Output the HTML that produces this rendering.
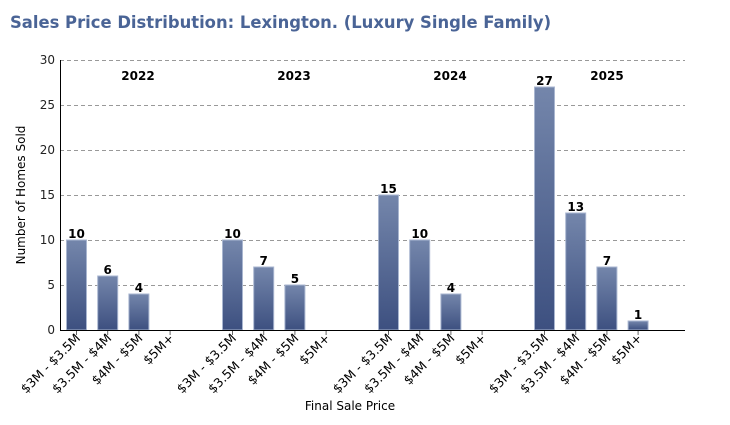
<!DOCTYPE html>
<html><head><style>body{margin:0;background:#fff}</style></head><body>
<svg width="730" height="420" xmlns="http://www.w3.org/2000/svg" font-family="DejaVu Sans, sans-serif">
<defs><linearGradient id="g" x1="0" y1="0" x2="0" y2="1"><stop offset="0" stop-color="#7486ab"/><stop offset="1" stop-color="#3d5080"/></linearGradient></defs>
<text x="10" y="28" font-size="16.4" font-weight="bold" fill="#4a6496">Sales Price Distribution: Lexington. (Luxury Single Family)</text>
<g stroke="#999" stroke-dasharray="4,3" stroke-width="1">
<line x1="60" x2="685" y1="60.5" y2="60.5"/><line x1="60" x2="685" y1="105.5" y2="105.5"/><line x1="60" x2="685" y1="150.5" y2="150.5"/><line x1="60" x2="685" y1="195.5" y2="195.5"/><line x1="60" x2="685" y1="240.5" y2="240.5"/><line x1="60" x2="685" y1="285.5" y2="285.5"/>
</g>
<g font-size="12" text-anchor="end" fill="#222">
<text x="55" y="64">30</text><text x="55" y="109">25</text><text x="55" y="154">20</text><text x="55" y="199">15</text><text x="55" y="244">10</text><text x="55" y="289">5</text><text x="55" y="334">0</text>
</g>
<g fill="url(#g)" stroke="#a9b6d0" stroke-width="1">
<rect x="66.5" y="240" width="20" height="90"/>
<rect x="97.7" y="276" width="20" height="54"/>
<rect x="128.9" y="294" width="20" height="36"/>
<rect x="222.5" y="240" width="20" height="90"/>
<rect x="253.7" y="267" width="20" height="63"/>
<rect x="284.9" y="285" width="20" height="45"/>
<rect x="378.5" y="195" width="20" height="135"/>
<rect x="409.7" y="240" width="20" height="90"/>
<rect x="440.9" y="294" width="20" height="36"/>
<rect x="534.5" y="87" width="20" height="243"/>
<rect x="565.7" y="213" width="20" height="117"/>
<rect x="596.9" y="267" width="20" height="63"/>
<rect x="628.1" y="321" width="20" height="9"/>
</g>
<g font-size="12" font-weight="bold" text-anchor="middle">
<text x="76.5" y="238">10</text><text x="107.7" y="274">6</text><text x="138.9" y="292">4</text>
<text x="232.5" y="238">10</text><text x="263.7" y="265">7</text><text x="294.9" y="283">5</text>
<text x="388.5" y="193">15</text><text x="419.7" y="238">10</text><text x="450.9" y="292">4</text>
<text x="544.5" y="85">27</text><text x="575.7" y="211">13</text><text x="606.9" y="265">7</text><text x="638.1" y="319">1</text>
</g>
<g stroke="#666">
<line x1="76.5" x2="76.5" y1="330" y2="335"/><line x1="107.7" x2="107.7" y1="330" y2="335"/><line x1="138.9" x2="138.9" y1="330" y2="335"/><line x1="170.1" x2="170.1" y1="330" y2="335"/>
<line x1="232.5" x2="232.5" y1="330" y2="335"/><line x1="263.7" x2="263.7" y1="330" y2="335"/><line x1="294.9" x2="294.9" y1="330" y2="335"/><line x1="326.1" x2="326.1" y1="330" y2="335"/>
<line x1="388.5" x2="388.5" y1="330" y2="335"/><line x1="419.7" x2="419.7" y1="330" y2="335"/><line x1="450.9" x2="450.9" y1="330" y2="335"/><line x1="482.1" x2="482.1" y1="330" y2="335"/>
<line x1="544.5" x2="544.5" y1="330" y2="335"/><line x1="575.7" x2="575.7" y1="330" y2="335"/><line x1="606.9" x2="606.9" y1="330" y2="335"/><line x1="638.1" x2="638.1" y1="330" y2="335"/>
</g>
<line x1="60.5" y1="60" x2="60.5" y2="330" stroke="#000"/>
<line x1="60" y1="330.5" x2="685" y2="330.5" stroke="#000"/>
<text transform="translate(25,195) rotate(-90)" font-size="12" text-anchor="middle">Number of Homes Sold</text>
<text x="350" y="410" font-size="12" text-anchor="middle">Final Sale Price</text>
<g font-size="12" font-weight="bold" text-anchor="middle">
<text x="138" y="80">2022</text><text x="294" y="80">2023</text><text x="450" y="80">2024</text><text x="607" y="80">2025</text>
</g>
<g font-size="12.5" text-anchor="end">
<text transform="translate(81,339) rotate(-45)">$3M - $3.5M</text>
<text transform="translate(112.2,339) rotate(-45)">$3.5M - $4M</text>
<text transform="translate(143.4,339) rotate(-45)">$4M - $5M</text>
<text transform="translate(174.6,339) rotate(-45)">$5M+</text>
<text transform="translate(237,339) rotate(-45)">$3M - $3.5M</text>
<text transform="translate(268.2,339) rotate(-45)">$3.5M - $4M</text>
<text transform="translate(299.4,339) rotate(-45)">$4M - $5M</text>
<text transform="translate(330.6,339) rotate(-45)">$5M+</text>
<text transform="translate(393,339) rotate(-45)">$3M - $3.5M</text>
<text transform="translate(424.2,339) rotate(-45)">$3.5M - $4M</text>
<text transform="translate(455.4,339) rotate(-45)">$4M - $5M</text>
<text transform="translate(486.6,339) rotate(-45)">$5M+</text>
<text transform="translate(549,339) rotate(-45)">$3M - $3.5M</text>
<text transform="translate(580.2,339) rotate(-45)">$3.5M - $4M</text>
<text transform="translate(611.4,339) rotate(-45)">$4M - $5M</text>
<text transform="translate(642.6,339) rotate(-45)">$5M+</text>
</g>
</svg>
</body></html>
